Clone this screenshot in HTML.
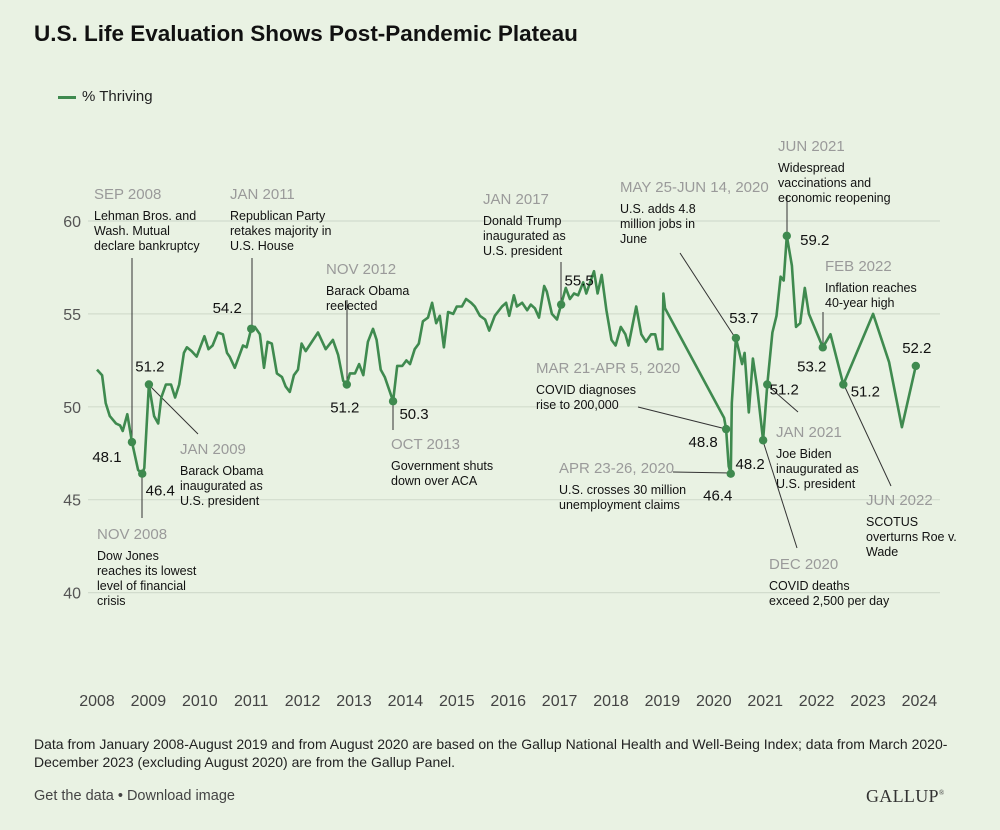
<!DOCTYPE html>
<html><head><meta charset="utf-8">
<style>
body{margin:0;background:#e9f2e3;font-family:"Liberation Sans",sans-serif;}
#wrap{position:relative;width:1000px;height:830px;overflow:hidden;background:#e9f2e3;}
.t{position:absolute;white-space:nowrap;}
svg text{font-family:"Liberation Sans",sans-serif;}
</style></head><body>
<div id="wrap">
<div class="t" style="left:34px;top:21px;font-size:22.5px;font-weight:bold;color:#111;">U.S. Life Evaluation Shows Post-Pandemic Plateau</div>
<div class="t" style="left:60px;top:88px;font-size:15px;color:#222;"><span style="display:inline-block;width:18px;height:3px;background:#3f8a4f;vertical-align:middle;margin-right:6px;margin-left:-2px"></span>% Thriving</div>
<svg id="chart" width="1000" height="830" style="position:absolute;left:0;top:0"></svg>
<div class="t" style="left:34px;top:735px;font-size:14px;line-height:18px;color:#222;white-space:normal;width:950px;">Data from January 2008-August 2019 and from August 2020 are based on the Gallup National Health and Well-Being Index; data from March 2020-December 2023 (excluding August 2020) are from the Gallup Panel.</div>
<div class="t" style="left:34px;top:788px;font-size:14.5px;color:#444;">Get the data • Download image</div>
<div class="t" style="left:866px;top:786px;font-size:18px;font-family:'Liberation Serif',serif;color:#333;letter-spacing:0.3px;">GALLUP<sup style="font-size:7px">®</sup></div>
</div>
<script>
const years=[2008,2009,2010,2011,2012,2013,2014,2015,2016,2017,2018,2019,2020,2021,2022,2023,2024];
const yTicks=[40,45,50,55,60];
const dates=[2008.0,2008.1,2008.17,2008.25,2008.37,2008.45,2008.5,2008.59,2008.68,2008.8,2008.88,2008.92,2009.01,2009.11,2009.19,2009.25,2009.34,2009.44,2009.52,2009.6,2009.69,2009.75,2009.84,2009.94,2010.09,2010.17,2010.25,2010.35,2010.45,2010.53,2010.58,2010.68,2010.84,2010.91,2011.0,2011.07,2011.17,2011.25,2011.32,2011.4,2011.5,2011.6,2011.67,2011.75,2011.83,2011.91,2011.98,2012.06,2012.3,2012.45,2012.59,2012.69,2012.79,2012.86,2012.92,2013.02,2013.1,2013.18,2013.27,2013.37,2013.44,2013.52,2013.6,2013.76,2013.84,2013.94,2014.02,2014.09,2014.18,2014.26,2014.34,2014.44,2014.52,2014.6,2014.67,2014.75,2014.83,2014.93,2015.0,2015.1,2015.18,2015.28,2015.35,2015.45,2015.55,2015.63,2015.74,2015.88,2015.96,2016.02,2016.11,2016.17,2016.27,2016.37,2016.44,2016.52,2016.6,2016.7,2016.75,2016.85,2016.95,2017.03,2017.12,2017.2,2017.28,2017.36,2017.46,2017.52,2017.67,2017.74,2017.82,2017.91,2018.01,2018.09,2018.19,2018.28,2018.34,2018.49,2018.59,2018.68,2018.78,2018.86,2018.92,2019.0,2019.02,2019.05,2020.2,2020.24,2020.29,2020.33,2020.35,2020.43,2020.55,2020.6,2020.68,2020.76,2020.84,2020.96,2021.04,2021.14,2021.22,2021.3,2021.36,2021.42,2021.52,2021.6,2021.68,2021.77,2021.85,2022.12,2022.27,2022.52,2023.1,2023.41,2023.66,2023.93];
const values=[52.0,51.7,50.2,49.5,49.1,49.0,48.7,49.6,48.1,46.6,46.4,46.7,51.2,49.5,49.1,50.5,51.2,51.2,50.5,51.2,52.9,53.2,53.0,52.7,53.8,53.1,53.3,54.0,53.9,52.9,52.7,52.1,53.3,53.2,54.2,54.3,53.9,52.1,53.5,53.4,51.8,51.6,51.1,50.8,51.7,52.0,53.4,53.0,54.0,53.1,53.6,52.8,51.4,51.2,51.8,51.8,52.3,51.7,53.5,54.2,53.6,52.0,51.6,50.3,52.2,52.2,52.5,52.3,53.1,53.4,54.6,54.8,55.6,54.5,54.9,53.2,55.1,55.0,55.4,55.4,55.8,55.6,55.4,54.9,54.7,54.1,54.9,55.4,55.6,54.9,56.0,55.4,55.6,55.2,55.5,55.3,54.8,56.5,56.2,55.0,54.7,55.5,56.4,55.8,56.1,56.0,56.7,56.1,57.3,56.1,57.1,55.2,53.6,53.3,54.3,53.9,53.3,55.4,53.9,53.5,53.9,53.9,53.1,53.1,56.1,55.3,49.4,48.8,46.8,46.4,50.2,53.7,52.3,52.9,49.7,52.6,51.1,48.2,51.2,54.0,54.9,57.0,56.8,59.2,57.6,54.3,54.5,56.4,55.0,53.2,53.9,51.2,55.0,52.4,48.9,52.2];
const markDates=[2008.68,2008.88,2009.01,2011.0,2012.86,2013.76,2017.03,2020.24,2020.33,2020.43,2020.96,2021.04,2021.42,2022.12,2022.52,2023.93];
const markValues=[48.1,46.4,51.2,54.2,51.2,50.3,55.5,48.8,46.4,53.7,48.2,51.2,59.2,53.2,51.2,52.2];
const valueLabels=["48.1","46.4","51.2","54.2","51.2","50.3","55.5","48.8","46.4","53.7","48.2","51.2","59.2","53.2","51.2","52.2"];
const labelOffsets=[[-25,20],[18,22],[1,-13],[-24,-16],[-2,28],[21,18],[18,-19],[-23,18],[-13,27],[8,-15],[-13,29],[17,10],[28,9],[-11,24],[22,12],[1,-13]];
const ns="http://www.w3.org/2000/svg";
const svg=document.getElementById('chart');
const X=t=>97+(t-2008)*51.4;
const Y=v=>221+(60-v)*18.58;
function mk(tag,attrs){const e=document.createElementNS(ns,tag);for(const k in attrs)e.setAttribute(k,attrs[k]);svg.appendChild(e);return e;}
yTicks.forEach(v=>{
 const g=mk('line',{x1:88,x2:940,y1:Y(v),y2:Y(v),stroke:'#d2dccd','stroke-width':1.2});
 
 
 const t=mk('text',{x:81,y:Y(v)+6,'font-size':16,fill:'#555','text-anchor':'end'});t.textContent=v;
 
 
});
years.forEach(y=>{
 const t=mk('text',{x:X(y),y:706,'font-size':16,fill:'#444','text-anchor':'middle'});t.textContent=y;
 
 
});
const notes=[
["SEP 2008",["Lehman Bros. and","Wash. Mutual","declare bankruptcy"],94,199,[132,258,132,443]],
["JAN 2011",["Republican Party","retakes majority in","U.S. House"],230,199,[252,258,252,329]],
["NOV 2012",["Barack Obama","reelected"],326,274,[347,300,347,386]],
["JAN 2017",["Donald Trump","inaugurated as","U.S. president"],483,204,[561,262,561,307]],
["MAY 25-JUN 14, 2020",["U.S. adds 4.8","million jobs in","June"],620,192,[680,253,736,339]],
["JUN 2021",["Widespread","vaccinations and","economic reopening"],778,151,[787,195,787,237]],
["FEB 2022",["Inflation reaches","40-year high"],825,271,[823,312,823,348]],
["MAR 21-APR 5, 2020",["COVID diagnoses","rise to 200,000"],536,373,[638,407,726,429]],
["APR 23-26, 2020",["U.S. crosses 30 million","unemployment claims"],559,473,[673,472,731,473]],
["JAN 2009",["Barack Obama","inaugurated as","U.S. president"],180,454,[149,385,198,434]],
["NOV 2008",["Dow Jones","reaches its lowest","level of financial","crisis"],97,539,[142,474,142,518]],
["OCT 2013",["Government shuts","down over ACA"],391,449,[393,402,393,430]],
["JAN 2021",["Joe Biden","inaugurated as","U.S. president"],776,437,[767,385,798,412]],
["DEC 2020",["COVID deaths","exceed 2,500 per day"],769,569,[763,441,797,548]],
["JUN 2022",["SCOTUS","overturns Roe v.","Wade"],866,505,[844,385,891,486]]
];
notes.forEach(n=>{
 const l=mk('line',{x1:n[4][0],y1:n[4][1],x2:n[4][2],y2:n[4][3],stroke:'#333','stroke-width':1});
 
 
 const d=mk('text',{x:n[2],y:n[3],'font-size':15,fill:'#9a9a9a'});d.textContent=n[0];
 
 
 n[1].forEach((s,i)=>{
  const t=mk('text',{x:n[2],y:n[3]+21+i*15,'font-size':12.5,fill:'#111'});t.textContent=s;
  
  
 });
});
const pts=dates.map((d,i)=>X(d).toFixed(1)+','+Y(values[i]).toFixed(1)).join(' ');
const pl=mk('polyline',{points:pts,fill:'none',stroke:'#3f8a4f','stroke-width':2.6,'stroke-linejoin':'round'});


markDates.forEach((d,i)=>{
 const c=mk('circle',{cx:X(d),cy:Y(markValues[i]),r:4.2,fill:'#3f8a4f'});
 
 
 const t=mk('text',{x:X(d)+labelOffsets[i][0],y:Y(markValues[i])+labelOffsets[i][1],'font-size':15,fill:'#111','text-anchor':'middle'});
 t.textContent=valueLabels[i];
 
 
});
</script>
</body></html>
